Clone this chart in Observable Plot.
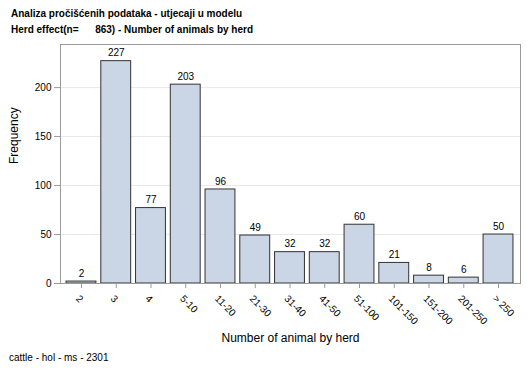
<!DOCTYPE html>
<html>
<head>
<meta charset="utf-8">
<script src="https://cdn.jsdelivr.net/npm/d3@7"></script>
<script src="https://cdn.jsdelivr.net/npm/@observablehq/plot@0.6"></script>
<style>
  html, body { margin: 0; padding: 0; background: #fff; }
  body { font-family: "Liberation Sans", Arial, sans-serif; }
  #wrap { position: relative; width: 529px; height: 378px; overflow: hidden; }
  .title { position: absolute; left: 11px; font-weight: bold; font-size: 10px; white-space: pre; color: #000; }
  .foot { position: absolute; left: 9px; font-size: 10px; white-space: pre; color: #000; }
  #chart { position: absolute; left: 0; top: 0; }
</style>
</head>
<body>
<div id="wrap">
  <div id="chart"></div>
  <div class="title" style="top:8px">Analiza pročišćenih podataka - utjecaji u modelu</div>
  <div class="title" style="top:24px">Herd effect(n=      863) - Number of animals by herd</div>
  <div class="foot" style="top:352px">cattle - hol - ms - 2301</div>
</div>
<script>
const categories = ["2", "3", "4", "5-10", "11-20", "21-30", "31-40", "41-50", "51-100", "101-150", "151-200", "201-250", "> 250"];
const frequencies = [2, 227, 77, 203, 96, 49, 32, 32, 60, 21, 8, 6, 50];
const yTicks = [0, 50, 100, 150, 200];

const data = categories.map((c, i) => ({cat: c, freq: frequencies[i]}));

const chart = Plot.plot({
  width: 529,
  height: 378,
  marginLeft: 60,
  marginRight: 9,
  marginTop: 44,
  marginBottom: 95,
  style: {fontFamily: "'Liberation Sans', Arial, sans-serif", fontSize: "10px", color: "#000", background: "#fff"},
  x: {type: "band", domain: categories, paddingInner: 0.14, paddingOuter: 0.07, insetLeft: 3.6, insetRight: 4.6, round: false},
  y: {domain: [0, 244]},
  marks: [
    Plot.gridY(yTicks.filter(d => d > 0), {stroke: "#e8e8e8", strokeOpacity: 1}),
    Plot.barY(data, {x: "cat", y: "freq", fill: "#cad5e5", stroke: "#333", strokeWidth: 1}),
    Plot.text(data, {x: "cat", y: "freq", text: d => String(d.freq), dy: -8, fontSize: 10, fill: "#000"}),
    Plot.frame({stroke: "#9a9a9a"}),
    Plot.axisY({ticks: yTicks, tickSize: 6, tickPadding: 3, label: null, stroke: "#9a9a9a", fill: "#000"}),
    Plot.axisX({tickSize: 5, text: null, label: null, stroke: "#9a9a9a"}),
    Plot.axisX({tickRotate: 45, tickSize: 0, tickPadding: 9, dx: -4, dy: 4.5, label: null, fill: "#000"}),
    Plot.text(["Frequency"], {frameAnchor: "left", dx: -46, rotate: -90, fontSize: 12, fill: "#000"}),
    Plot.text(["Number of animal by herd"], {frameAnchor: "bottom", dy: 58, fontSize: 12, fill: "#000"})
  ]
});
document.getElementById("chart").appendChild(chart);
</script>
</body>
</html>
